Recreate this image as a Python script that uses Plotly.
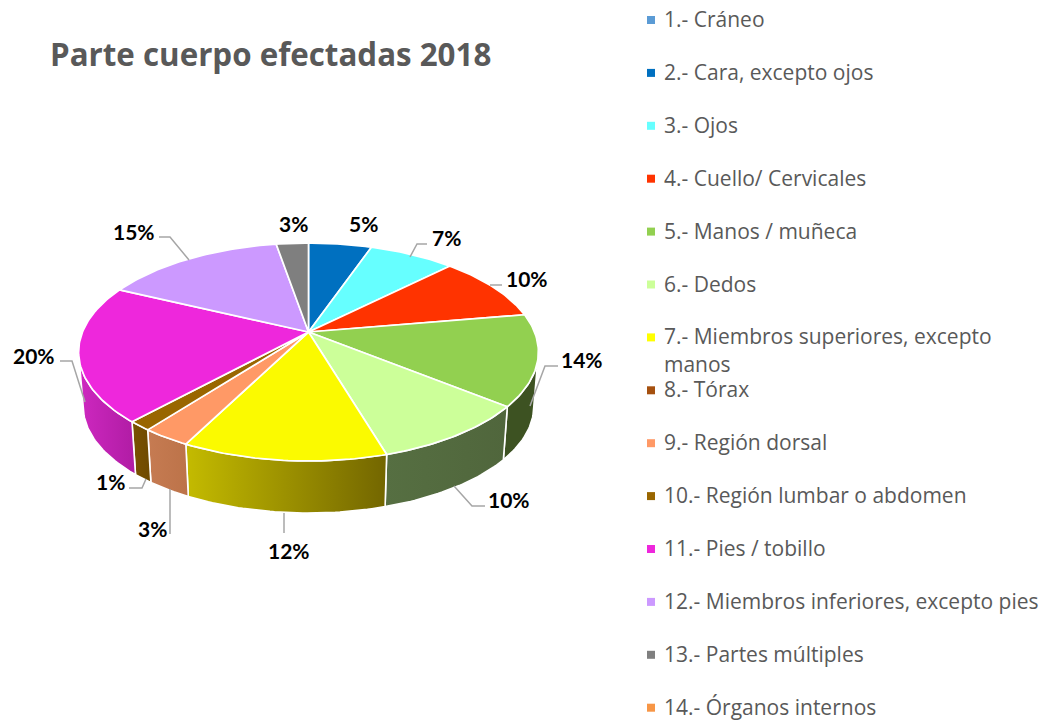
import math
import plotly.graph_objects as go

# --- data -------------------------------------------------------------
title_text = "Parte cuerpo efectadas 2018"
categories = ["1.- Cráneo", "2.- Cara, excepto ojos", "3.- Ojos", "4.- Cuello/ Cervicales",
              "5.- Manos / muñeca", "6.- Dedos", "7.- Miembros superiores, excepto\nmanos",
              "8.- Tórax", "9.- Región dorsal", "10.- Región lumbar o abdomen",
              "11.- Pies / tobillo", "12.- Miembros inferiores, excepto pies",
              "13.- Partes múltiples", "14.- Órganos internos"]
values = [0, 5.3, 7.2, 9.8, 13.5, 9.6, 12.1, 0, 2.9, 1.4, 20.3, 15.2, 2.7, 0]
colors = ["#5B9BD5", "#0070C0", "#66FFFF", "#FF3300", "#92D050", "#CCFF99", "#FFFF00",
          "#A5500F", "#FF9966", "#996600", "#EE27DC", "#CC99FF", "#7F7F7F", "#F79646"]
top_colors = {6: "#FBFA00"}
# side wall gradient (left colour, right colour) per category
wall_colors = {4: ("#3D5222", "#3D5222"), 5: ("#566F42", "#50663C"),
               6: ("#C4BB00", "#736600"), 8: ("#C67B52", "#BC7349"),
               9: ("#7A5200", "#6E4A00"), 10: ("#CE28C0", "#B01CA4")}

# --- layout constants ---------------------------------------------------
CX, CY = 308.5, 332     # apex of the pie
R, S, K = 226, 105.3, 0.1835   # perspective projection of the disc
DEPTH, SHRINK = 54.6, 0.98
GREY = "#595959"
LEADER = "#A6A6A6"

# label centre for each non-zero slice, in slice order
label_xy = {1: (363, 223), 2: (446, 237), 3: (527, 278), 4: (582, 359), 5: (509, 499),
            6: (289, 550), 8: (152, 528), 9: (110, 481), 10: (34, 355), 11: (134, 231), 12: (293, 223)}
leaders = [[(159, 237), (170, 237), (189, 260)], [(60, 361), (72, 361), (85, 402)],
           [(129, 488), (142, 488), (146, 479)], [(170, 489), (170, 534)],
           [(284, 513), (284, 533)], [(454, 486), (472, 506), (485, 506)],
           [(558, 366), (545, 366), (530, 406)], [(502, 285), (490, 285)],
           [(427, 244), (417, 244), (410, 257)]]


def top_pt(t):
    u, v = math.sin(t), math.cos(t)
    w = 1 + K * v
    return CX + R * u / w, CY - S * v / w


def bottom_pt(t):
    x, y = top_pt(t)
    return CX + (x - CX) * SHRINK, CY + DEPTH + (y - CY) * SHRINK


def arc(fn, a, b, step=math.radians(1)):
    n = max(2, int(abs(b - a) / step) + 1)
    return [fn(a + (b - a) * i / n) for i in range(n + 1)]


fig = go.Figure()
total = sum(values)
edges = []
c = 0.0
for v in values:
    edges.append((c, c + v))
    c += v
to_ang = lambda p: 2 * math.pi * p / total
sil = math.acos(-K)  # silhouette angle
sil_l, sil_r = 2 * math.pi - sil, sil

# side walls
for i, (c0, c1) in enumerate(edges):
    if values[i] == 0:
        continue
    a, b = max(to_ang(c0), sil_r), min(to_ang(c1), sil_l)
    if b <= a:
        continue
    pts = arc(top_pt, a, b) + arc(bottom_pt, b, a)
    xs, ys = zip(*pts)
    left, right = wall_colors[i]
    fig.add_trace(go.Scatter(x=list(xs) + [xs[0]], y=list(ys) + [ys[0]], mode="lines", fill="toself",
                             line=dict(color="white", width=1.6),
                             fillgradient=dict(type="horizontal", colorscale=[[0, left], [1, right]]),
                             hoverinfo="skip", showlegend=False))

# top face
for i, (c0, c1) in enumerate(edges):
    if values[i] == 0:
        continue
    pts = [(CX, CY)] + arc(top_pt, to_ang(c0), to_ang(c1)) + [(CX, CY)]
    xs, ys = zip(*pts)
    fig.add_trace(go.Scatter(x=xs, y=ys, mode="lines", fill="toself", fillcolor=top_colors.get(i, colors[i]),
                             line=dict(color="white", width=1.7),
                             hoverinfo="skip", showlegend=False))

# legend (markers + text)
leg_y0, leg_step = 20, 52.9
fig.add_trace(go.Scatter(x=[651] * len(categories), y=[leg_y0 + i * leg_step for i in range(len(categories))],
                         mode="markers", marker=dict(symbol="square", size=8, color=colors),
                         hoverinfo="skip", showlegend=False))
annotations = []
for i, cat in enumerate(categories):
    for j, line in enumerate(cat.split("\n")):
        annotations.append(dict(x=662, y=leg_y0 - 1 + i * leg_step + j * 28, text=line, xref="x", yref="y",
                                xanchor="left", yanchor="middle", showarrow=False,
                                font=dict(family="Open Sans", size=21, color=GREY)))
# slice labels
for i, (x, y) in label_xy.items():
    annotations.append(dict(x=x, y=y, text=f"{round(values[i])}%", xref="x", yref="y", showarrow=False,
                            xanchor="center", yanchor="middle",
                            font=dict(family="Lato", size=21, color="black", weight="bold")))
annotations.append(dict(x=48, y=54, text=title_text, xref="x", yref="y", showarrow=False, xanchor="left",
                        yanchor="middle", font=dict(family="Open Sans", size=31.3, color=GREY, weight="bold")))

shapes = [dict(type="path", path="M" + " L".join(f"{x},{y}" for x, y in pl), xref="x", yref="y",
               line=dict(color=LEADER, width=1.5)) for pl in leaders]

fig.update_layout(width=1049, height=720, margin=dict(l=0, r=0, t=0, b=0), paper_bgcolor="white",
                  plot_bgcolor="white", annotations=annotations, shapes=shapes, showlegend=False,
                  xaxis=dict(range=[0, 1049], visible=False, fixedrange=True),
                  yaxis=dict(range=[720, 0], visible=False, fixedrange=True))
fig.write_html("out.html", post_script="document.body.style.margin='0';document.body.style.overflow='hidden';",
               config=dict(displayModeBar=False))
